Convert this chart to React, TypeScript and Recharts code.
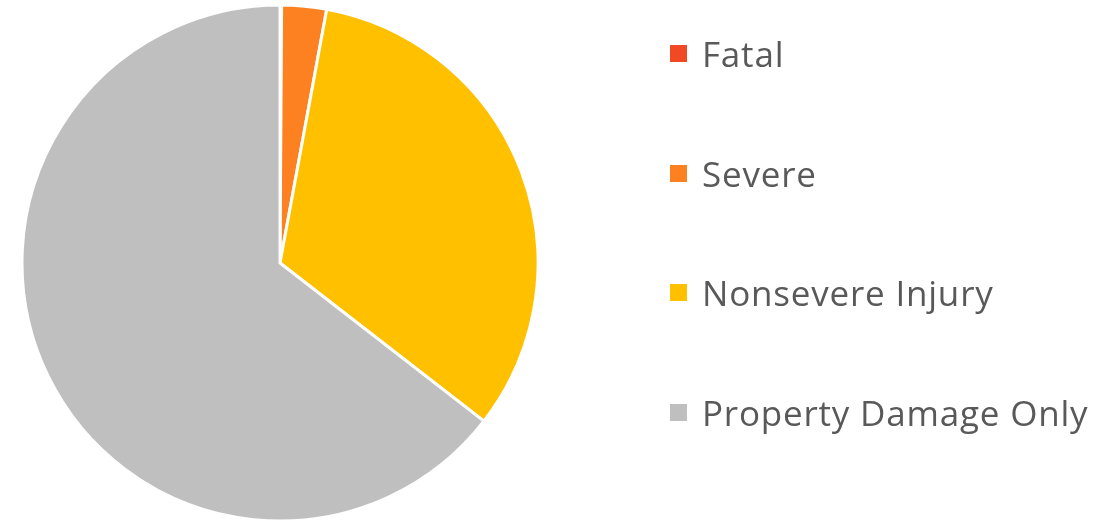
import React from 'react';
import { PieChart, Pie, Cell, Legend } from 'recharts';

const categories = ['Fatal', 'Severe', 'Nonsevere Injury', 'Property Damage Only'];
const shares = [0.1, 2.8, 32.6, 64.5];
const colors = ['#F04923', '#FD8121', '#FFC000', '#BFBFBF'];

const data = categories.map((name, i) => ({ name, value: shares[i] }));

// keep the legend in data order instead of recharts' default sort
const renderLegend = () => (
  <div style={{ display: 'flex', flexDirection: 'column' }}>
    {categories.map((name, i) => (
      <div key={name} style={{ height: 119.5, display: 'flex', alignItems: 'center' }}>
        <span
          style={{
            width: 17,
            height: 17,
            background: colors[i],
            display: 'inline-block',
            marginRight: 15,
          }}
        />
        <span
          style={{
            fontFamily: '"Open Sans", sans-serif',
            fontSize: 35,
            letterSpacing: 0.8,
            color: '#595959',
            whiteSpace: 'nowrap',
          }}
        >
          {name}
        </span>
      </div>
    ))}
  </div>
);

export default function App() {
  return (
    <div style={{ position: 'fixed', left: 0, top: 0, width: 1110, height: 522, background: '#fff' }}>
      <PieChart width={1110} height={522} margin={{ top: 0, right: 0, bottom: 0, left: 0 }}>
        <Pie
          data={data}
          dataKey="value"
          nameKey="name"
          cx={280}
          cy={263}
          outerRadius={258}
          startAngle={90}
          endAngle={-270}
          stroke="#ffffff"
          strokeWidth={3}
          isAnimationActive={false}
        >
          {data.map((d, i) => (
            <Cell key={d.name} fill={colors[i]} />
          ))}
        </Pie>
        <Legend
          content={renderLegend}
          layout="vertical"
          wrapperStyle={{ position: 'absolute', left: 670, top: -6, width: 440 }}
        />
      </PieChart>
    </div>
  );
}
